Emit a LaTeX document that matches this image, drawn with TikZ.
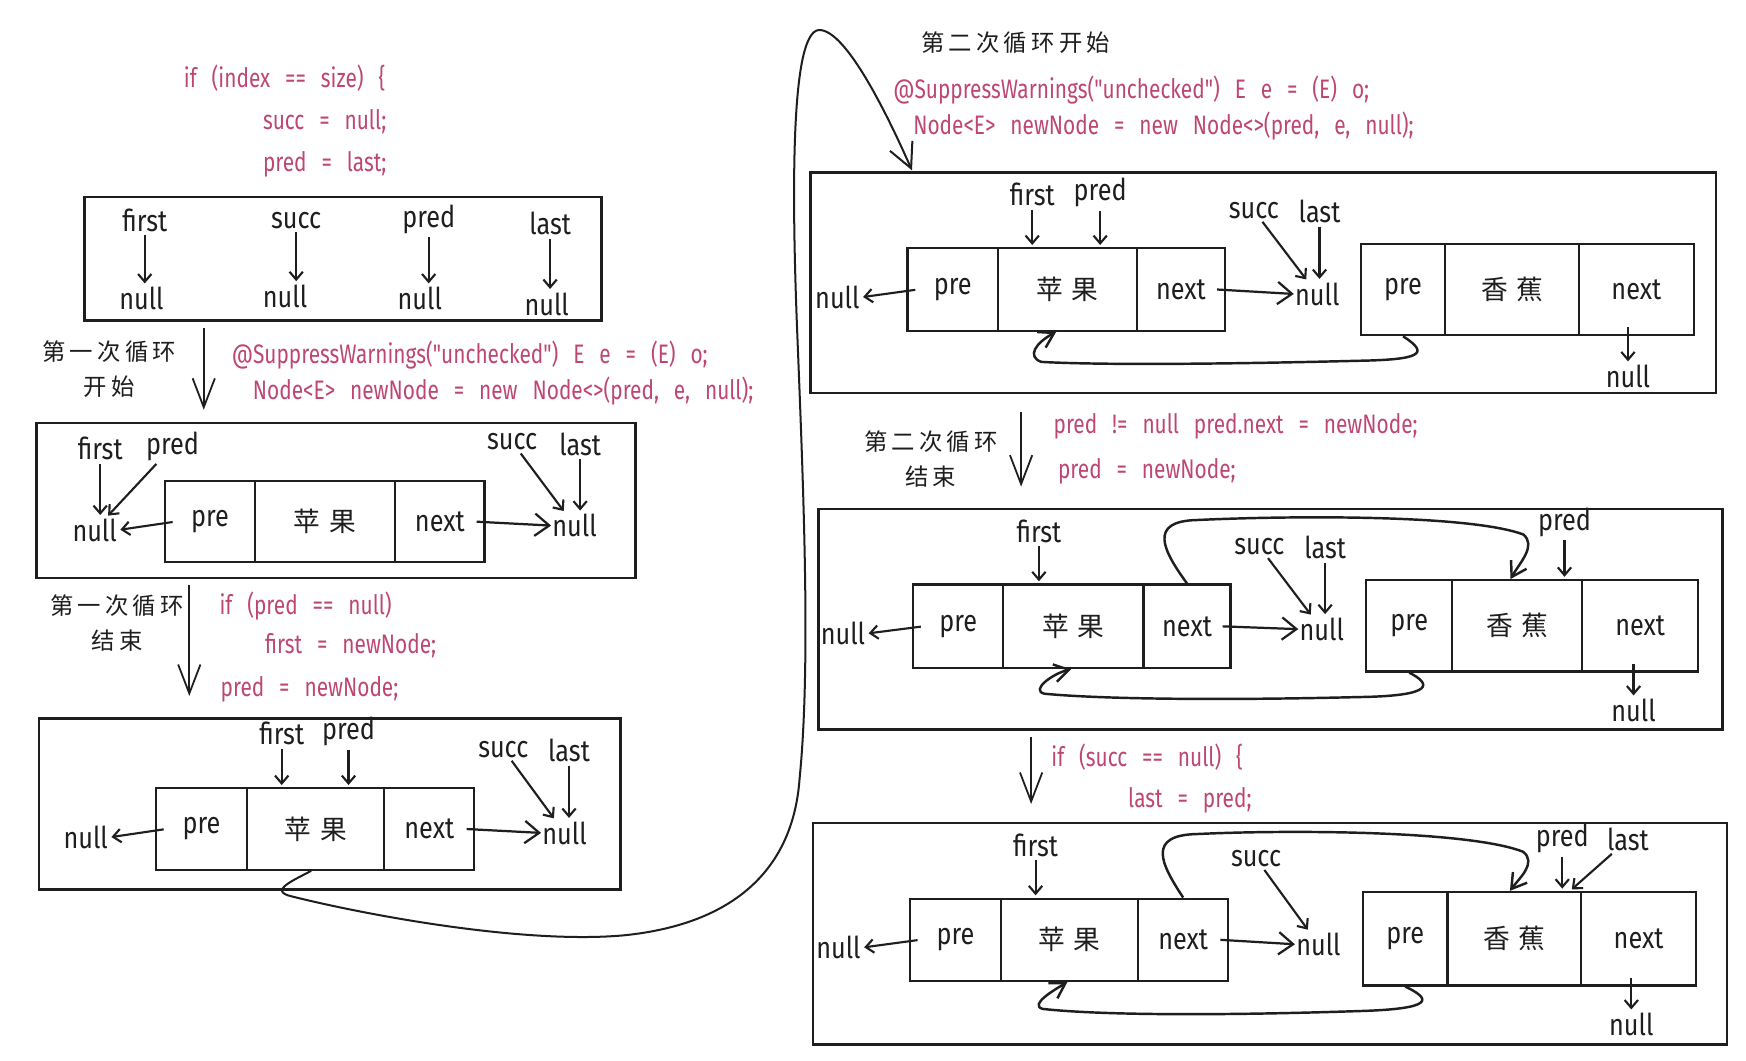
\documentclass[tikz,border=0pt]{standalone}
\usepackage{fontspec}
\usetikzlibrary{arrows.meta,calc}
\newfontfamily\hand{Fira Sans}[FakeStretch=0.84]
\newfontfamily\codefont{Fira Sans}[FakeStretch=0.78,WordSpace=2.7]
\newfontfamily\cjk{Noto Sans CJK SC}
\newfontfamily\cjkw{Noto Sans CJK SC}[LetterSpace=18]
\definecolor{ink}{HTML}{1E1E1E}
\definecolor{codec}{HTML}{BE4673}
\newcommand\mklist[8]{%
 \node[cell,minimum width={#3-#2},minimum height={#7-#6}] (#1p) at ({(#2+#3)/2},{(#6+#7)/2}) {pre};
 \node[cell,minimum width={#4-#3},minimum height={#7-#6}] (#1d) at ({(#3+#4)/2},{(#6+#7)/2}) {\cjk\fontsize{24}{28}\selectfont #8};
 \node[cell,minimum width={#5-#4},minimum height={#7-#6}] (#1n) at ({(#4+#5)/2},{(#6+#7)/2}) {next};
}
\begin{document}
\begin{tikzpicture}[x=1pt,y=-1pt,
 lbl/.style={font=\hand\fontsize{27}{31}\selectfont, text=ink, inner sep=1pt},
 code/.style={font=\codefont\fontsize{24}{28}\selectfont, text=codec, anchor=west, inner sep=0pt},
 cn/.style={font=\cjkw\fontsize{21}{25}\selectfont, text=ink, inner sep=0pt},
 boxframe/.style={draw=ink, line width=2.4pt},
 cell/.style={draw=ink, line width=2pt, inner sep=0pt, font=\hand\fontsize{27}{31}\selectfont, text=ink},
 arr/.style={draw=ink, line width=1.9pt, shorten <=2pt, shorten >=2pt, -{Straight Barb[length=7pt,width=12pt]}},
 bigarr/.style={draw=ink, line width=2pt, -{Straight Barb[length=13pt,width=20pt]}},
 flow/.style={draw=ink, line width=1.6pt, -{Straight Barb[length=26pt,width=20pt]}},
 curvearr/.style={draw=ink, line width=2.2pt, -{Straight Barb[length=13pt,width=16pt]}},
 big/.style={draw=ink, line width=1.8pt, -{Straight Barb[length=22pt,width=22pt]}}]
\fill[white] (0,0) rectangle (1568,952);
\useasboundingbox (0,0) rectangle (1568,952);

% ---------------- left column ----------------
\node[code] (k1a) at (165,70) {if (index == size) \{};
\node[code] (k1b) at (236,109) {succ = null;};
\node[code] (k1c) at (236,148) {pred = last;};

\draw[boxframe] (76,177) rectangle (540,288);
\node[lbl] (f1) at (130,198) {first};
\node[lbl] (s1) at (266,198) {succ};
\node[lbl] (p1) at (385,197) {pred};
\node[lbl] (l1) at (494,201) {last};
\node[lbl] (n1a) at (127,268) {null};
\node[lbl] (n1b) at (256,266) {null};
\node[lbl] (n1c) at (377,268) {null};
\node[lbl] (n1d) at (491,273) {null};
\draw[arr] (f1.south) -- (f1.south |- n1a.north);
\draw[arr] (s1.south) -- (s1.south |- n1b.north);
\draw[arr] (p1.south) -- (p1.south |- n1c.north);
\draw[arr] (l1.south) -- (l1.south |- n1d.north);

\coordinate (a1s) at (183,295);
\coordinate (a1e) at (183,368);
\draw[flow] (a1s) -- (a1e);
\node[cn] (c1a) at (98,316) {第一次循环};
\node[cn] (c1b) at (98,347) {开始};
\node[code] (k2a) at (208,319) {@SuppressWarnings("unchecked") E e = (E) o;};
\node[code] (k2b) at (227,351) {Node<E> newNode = new Node<>(pred, e, null);};

\draw[boxframe] (33,380) rectangle (571,519);
\node[lbl] (f2) at (90,403) {first};
\node[lbl] (p2) at (155,401) {pred};
\node[lbl] (s2) at (460,397) {succ};
\node[lbl] (l2) at (521,399) {last};
\mklist{b2}{148}{229}{355}{435}{432}{505}{苹\hspace{8pt}果}
\node[lbl] (nl2) at (85,476) {null};
\node[lbl] (nr2) at (516,472) {null};
\draw[arr] (f2.south) -- (f2.south |- nl2.north);
\draw[arr] (p2) -- (nl2);
\draw[arr] (s2) -- (nr2);
\draw[arr] (l2.south) -- (l2.south |- nr2.north);
\draw[arr] ([xshift=10pt]b2p.west) -- (nl2.east);
\draw[bigarr] ([xshift=-8pt]b2n.east) -- (nr2.west);

\coordinate (a2s) at (170,525);
\coordinate (a2e) at (170,625);
\draw[flow] (a2s) -- (a2e);
\node[cn] (c2a) at (105,544) {第一次循环};
\node[cn] (c2b) at (105,575) {结束};
\node[code] (k3a) at (197,544) {if (pred == null)};
\node[code] (k3b) at (238,580) {first = newNode;};
\node[code] (k3c) at (198,619) {pred = newNode;};

\draw[boxframe] (35,645) rectangle (557,799);
\node[lbl] (f3) at (253,659) {first};
\node[lbl] (p3) at (313,657) {pred};
\node[lbl] (s3) at (452,673) {succ};
\node[lbl] (l3) at (511,674) {last};
\mklist{b3}{140}{222}{345}{426}{708}{781}{苹\hspace{8pt}果}
\node[lbl] (nl3) at (77,752) {null};
\node[lbl] (nr3) at (507,748) {null};
\draw[arr] (f3.south) -- (f3.south |- b3d.north);
\draw[arr] (p3.south) -- (p3.south |- b3d.north);
\draw[arr] (s3) -- (nr3);
\draw[arr] (l3.south) -- (l3.south |- nr3.north);
\draw[arr] ([xshift=10pt]b3p.west) -- (nl3.east);
\draw[bigarr] ([xshift=-8pt]b3n.east) -- (nr3.west);

% big connecting curve
\coordinate (r1in) at (819,153);
\draw[big] ($(b3d.south)+(-4,0)$) .. controls (265,790) and (240,800) .. (262,805)
  .. controls (330,822) and (470,848) .. (560,840)
  .. controls (660,830) and (712,780) .. (718,700)
  .. controls (728,600) and (722,450) .. (716,300)
  .. controls (710,150) and (712,30) .. (735,27)
  .. controls (760,25) and (800,110) .. (r1in);

% ---------------- right column ----------------
\node[cn] (c4) at (912,38) {第二次循环开始};
\node[code] (k4a) at (802,81) {@SuppressWarnings("unchecked") E e = (E) o;};
\node[code] (k4b) at (820,113) {Node<E> newNode = new Node<>(pred, e, null);};

\draw[boxframe] (728,155) rectangle (1541,353);
\node[lbl] (f4) at (927,175) {first};
\node[lbl] (p4) at (988,173) {pred};
\node[lbl] (s4) at (1126,189) {succ};
\node[lbl] (l4) at (1185,190) {last};
\mklist{a4}{815}{896}{1021}{1100}{223}{297}{苹\hspace{8pt}果}
\mklist{b4}{1222}{1298}{1418}{1521}{219}{301}{香\hspace{8pt}蕉}
\node[lbl] (nl4) at (752,267) {null};
\node[lbl] (nm4) at (1183,264) {null};
\node[lbl] (nb4) at (1462,338) {null};
\draw[arr] (f4.south) -- (f4.south |- a4d.north);
\draw[arr] (p4.south) -- (p4.south |- a4d.north);
\draw[arr] (s4) -- (nm4);
\draw[arr] (l4.south) -- (l4.south |- nm4.north);
\draw[arr] ([xshift=10pt]a4p.west) -- (nl4.east);
\draw[bigarr] ([xshift=-8pt]a4n.east) -- (nm4.west);
\draw[arr] ($(nb4.north |- b4n.south)+(0,-10)$) -- (nb4.north);
\draw[curvearr] (b4p.south) .. controls (1285,318) and (1275,323) .. (1220,324)
  .. controls (1100,327) and (990,328) .. (935,325)
  .. controls (922,320) and (930,308) .. ($(a4d.south)+(-10,0)$);

\coordinate (a5s) at (917,370);
\coordinate (a5e) at (917,437);
\draw[flow] (a5s) -- (a5e);
\node[cn] (c5a) at (836,397) {第二次循环};
\node[cn] (c5b) at (836,428) {结束};
\node[code] (k5a) at (946,383) {pred != null pred.next = newNode;};
\node[code] (k5b) at (950,423) {pred = newNode;};

\draw[boxframe] (735,457) rectangle (1547,655);
\node[lbl] (f5) at (933,477) {first};
\node[lbl] (s5) at (1131,491) {succ};
\node[lbl] (l5) at (1190,492) {last};
\node[lbl] (p5) at (1405,469) {pred};
\mklist{a5}{820}{901}{1027}{1105}{525}{600}{苹\hspace{8pt}果}
\mklist{b5}{1227}{1304}{1421}{1525}{521}{603}{香\hspace{8pt}蕉}
\node[lbl] (nl5) at (757,569) {null};
\node[lbl] (nm5) at (1187,565) {null};
\node[lbl] (nb5) at (1467,638) {null};
\draw[arr] (f5.south) -- (f5.south |- a5d.north);
\draw[arr] (s5) -- (nm5);
\draw[arr] (l5.south) -- (l5.south |- nm5.north);
\draw[arr] (p5.south) -- (p5.south |- b5d.north);
\draw[arr] ([xshift=10pt]a5p.west) -- (nl5.east);
\draw[bigarr] ([xshift=-8pt]a5n.east) -- (nm5.west);
\draw[arr] ($(nb5.north |- b5n.south)+(0,-10)$) -- (nb5.north);
\draw[curvearr] (a5n.north) .. controls (1045,495) and (1030,468) .. (1075,467)
  .. controls (1160,463) and (1320,462) .. (1368,480)
  .. controls (1380,490) and (1365,505) .. ($(b5d.north)+(-6,0)$);
\draw[curvearr] (b5p.south) .. controls (1285,614) and (1290,625) .. (1220,626)
  .. controls (1100,629) and (990,628) .. (938,623)
  .. controls (925,620) and (945,605) .. ($(a5d.south)+(-2,0)$);

\coordinate (a6s) at (926,662);
\coordinate (a6e) at (926,722);
\draw[flow] (a6s) -- (a6e);
\node[code] (k6a) at (944,680) {if (succ == null) \{};
\node[code] (k6b) at (1013,719) {last = pred;};

\draw[boxframe] (730,739) rectangle (1551,938);
\node[lbl] (f6) at (930,759) {first};
\node[lbl] (s6) at (1128,771) {succ};
\node[lbl] (p6) at (1403,753) {pred};
\node[lbl] (l6) at (1462,754) {last};
\mklist{a6}{817}{899}{1022}{1103}{807}{881}{苹\hspace{8pt}果}
\mklist{b6}{1224}{1300}{1420}{1523}{801}{885}{香\hspace{8pt}蕉}
\node[lbl] (nl6) at (753,851) {null};
\node[lbl] (nm6) at (1184,848) {null};
\node[lbl] (nb6) at (1465,920) {null};
\draw[arr] (f6.south) -- (f6.south |- a6d.north);
\draw[arr] (s6) -- (nm6);
\draw[arr] (p6.south) -- (p6.south |- b6d.north);
\draw[arr] (l6) -- ($(b6d.north)+(50,0)$);
\draw[arr] ([xshift=10pt]a6p.west) -- (nl6.east);
\draw[bigarr] ([xshift=-8pt]a6n.east) -- (nm6.west);
\draw[arr] ($(nb6.north |- b6n.south)+(0,-10)$) -- (nb6.north);
\draw[curvearr] (a6n.north) .. controls (1042,775) and (1030,750) .. (1075,749)
  .. controls (1160,745) and (1320,746) .. (1368,765)
  .. controls (1380,775) and (1365,788) .. ($(b6d.north)+(-4,0)$);
\draw[curvearr] (b6p.south) .. controls (1285,897) and (1290,906) .. (1220,908)
  .. controls (1100,912) and (990,912) .. (936,906)
  .. controls (925,902) and (945,890) .. ($(a6d.south)+(-2,0)$);
\end{tikzpicture}
\end{document}
